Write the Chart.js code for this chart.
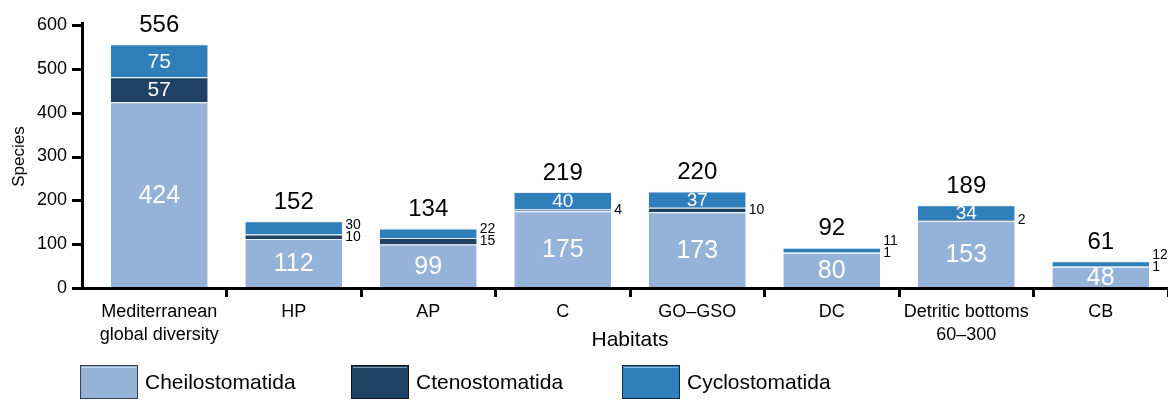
<!DOCTYPE html>
<html>
<head>
<meta charset="utf-8">
<script src="https://cdn.jsdelivr.net/npm/chart.js@4.4.1/dist/chart.umd.min.js"></script>
<style>
  html, body { margin: 0; padding: 0; background: #fff; }
</style>
</head>
<body>
<canvas id="myChart" width="1168" height="401"></canvas>
<script>
// data
const habitats = [['Mediterranean', 'global diversity'], 'HP', 'AP', 'C', 'GO–GSO', 'DC', ['Detritic bottoms', '60–300'], 'CB'];
const cheilostomatida = [424, 112, 99, 175, 173, 80, 153, 48];
const ctenostomatida = [57, 10, 15, 4, 10, 1, 2, 1];
const cyclostomatida = [75, 30, 22, 40, 37, 11, 34, 12];
const totals = [556, 152, 134, 219, 220, 92, 189, 61];
const yTicks = [0, 100, 200, 300, 400, 500, 600];
const yMax = yTicks[yTicks.length - 1];

const colors = ['#95b3d9', '#1f4264', '#2f7fba'];
const FONT = '"Liberation Sans", Arial, sans-serif';
Chart.defaults.font.family = FONT;
Chart.defaults.color = '#000';

// the plot top kept landing ~10px low, so pull it up after layout
const plotTop = 25;
const topFixPlugin = {
  id: 'topFix',
  afterLayout(chart) {
    const area = chart.chartArea;
    const ys = chart.scales.y;
    if (!area || !ys || !(area.top > plotTop)) return;
    try {
      area.top = plotTop;
      area.height = area.bottom - plotTop;
      ys.top = plotTop;
      ys.height = ys.bottom - plotTop;
      ys.configure();
    } catch (e) { /* keep default layout */ }
  }
};

// axis lines + small ticks on the y axis (axis sits a bit left of the first bar slot)
const axisLinesPlugin = {
  id: 'axisLines',
  afterDraw(chart) {
    const c = chart.ctx;
    const area = chart.chartArea;
    const axisX = area.left - 10;
    const y0 = area.bottom;
    const h = area.bottom - area.top;
    c.save();
    c.fillStyle = '#000';
    // x axis
    c.fillRect(axisX - 10, y0 - 1, chart.width - axisX + 10, 3);
    // y axis
    c.fillRect(axisX - 1, area.top - 3, 3, h + 5);
    // y ticks
    yTicks.forEach(v => {
      const p = Math.round(y0 - v / yMax * h);
      c.fillRect(axisX - 10, p - 1, 11, 3);
    });
    c.restore();
  }
};

// value labels inside / beside / above the bars
const labelsPlugin = {
  id: 'barLabels',
  afterDatasetsDraw(chart) {
    const c = chart.ctx;
    const m0 = chart.getDatasetMeta(0).data;
    const m1 = chart.getDatasetMeta(1).data;
    const m2 = chart.getDatasetMeta(2).data;
    c.save();
    c.textBaseline = 'middle';
    habitats.forEach((h, i) => {
      const a = m0[i], b = m1[i], d = m2[i];
      // cheilostomatida
      c.textAlign = 'center';
      c.fillStyle = '#fff';
      c.font = '25px ' + FONT;
      c.fillText(cheilostomatida[i], a.x, (a.y + a.base) / 2 + 1);

      const hb = b.base - b.y, hd = d.base - d.y;
      const right = a.x + a.width / 2 + 3;
      const bY = (b.y + b.base) / 2;
      if (hb >= 14) {
        c.textAlign = 'center';
        c.font = '21px ' + FONT;
        c.fillStyle = '#fff';
        c.fillText(ctenostomatida[i], b.x, bY + 1);
      } else {
        c.textAlign = 'left';
        c.fillStyle = '#000';
        c.font = '14px ' + FONT;
        c.fillText(ctenostomatida[i], right, bY);
      }
      const dMid = (d.y + d.base) / 2;
      if (hd >= 14) {
        c.textAlign = 'center';
        c.font = (hd >= 20 ? '21px ' : '19px ') + FONT;
        c.fillStyle = '#fff';
        c.fillText(cyclostomatida[i], d.x, dMid + 1);
      } else {
        c.textAlign = 'left';
        c.fillStyle = '#000';
        c.font = '14px ' + FONT;
        c.fillText(cyclostomatida[i], right, Math.min(dMid, bY - 12));
      }
      // total on top
      c.textAlign = 'center';
      c.textBaseline = 'bottom';
      c.fillStyle = '#000';
      c.font = '24px ' + FONT;
      c.fillText(totals[i], d.x, d.y - 7);
      c.textBaseline = 'middle';
    });
    c.restore();
  }
};

// legend row under the axis
const legendPlugin = {
  id: 'legendRow',
  afterDraw(chart) {
    const c = chart.ctx;
    c.save();
    chart.data.datasets.forEach((ds, i) => {
      const x = 80 + i * 271, y = 365, w = 58, h = 34;
      c.fillStyle = ds.backgroundColor;
      c.fillRect(x, y, w, h);
      c.strokeStyle = 'rgba(0,0,0,0.65)';
      c.lineWidth = 1;
      c.strokeRect(x + 0.5, y + 0.5, w - 1, h - 1);
      c.strokeStyle = 'rgba(255,255,255,0.45)';
      c.beginPath();
      c.moveTo(x + 2, y + 2.5);
      c.lineTo(x + w - 2, y + 2.5);
      c.stroke();
      c.fillStyle = '#000';
      c.font = '21px ' + FONT;
      c.textAlign = 'left';
      c.textBaseline = 'middle';
      c.fillText(ds.label, x + 65, y + h / 2 + 1);
    });
    c.restore();
  }
};

const ctx = document.getElementById('myChart').getContext('2d');
const myChart = new Chart(ctx, {
  type: 'bar',
  data: {
    labels: habitats,
    datasets: [
      { label: 'Cheilostomatida', data: cheilostomatida, backgroundColor: colors[0] },
      { label: 'Ctenostomatida', data: ctenostomatida, backgroundColor: colors[1] },
      { label: 'Cyclostomatida', data: cyclostomatida, backgroundColor: colors[2] }
    ].map(d => Object.assign(d, {
      borderColor: 'rgba(225,235,248,0.85)',
      borderWidth: { top: 1, left: 0, right: 0, bottom: 0 },
      borderSkipped: false,
      barPercentage: 0.72,
      categoryPercentage: 1
    }))
  },
  options: {
    responsive: false,
    animation: false,
    devicePixelRatio: 1,
    layout: { padding: { top: 14, left: 0, right: 0, bottom: 0 } },
    plugins: { legend: { display: false }, tooltip: { enabled: false } },
    scales: {
      x: {
        stacked: true,
        border: { display: false },
        grid: {
          drawOnChartArea: false,
          drawTicks: true,
          tickLength: 9,
          lineWidth: 3,
          color: g => (g.index === 0 || g.index === habitats.length) ? 'rgba(0,0,0,0)' : '#000'
        },
        ticks: {
          color: '#000',
          font: { size: 18, lineHeight: 1.3 },
          padding: 3,
          maxRotation: 0,
          autoSkip: false
        },
        title: {
          display: true,
          text: 'Habitats',
          color: '#000',
          font: { size: 21 },
          padding: { top: 0, bottom: 48 }
        },
        afterFit: s => { s.height = 113; }
      },
      y: {
        stacked: true,
        min: 0,
        max: yMax,
        border: { display: false },
        grid: { drawOnChartArea: false, drawTicks: false },
        ticks: {
          stepSize: 100,
          color: '#000',
          font: { size: 18 },
          padding: 25
        },
        title: {
          display: true,
          text: 'Species',
          color: '#000',
          font: { size: 17 },
          padding: { top: 9, bottom: 0 }
        },
        afterFit: s => { s.width = 92; }
      }
    }
  },
  plugins: [topFixPlugin, axisLinesPlugin, labelsPlugin, legendPlugin]
});
</script>
</body>
</html>
